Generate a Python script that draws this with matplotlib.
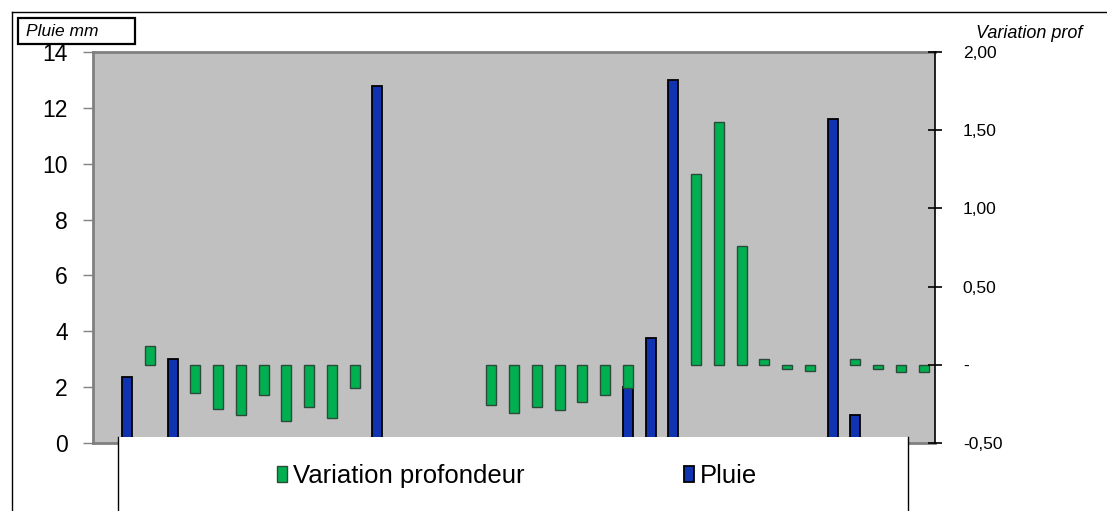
import matplotlib
matplotlib.use("Agg")
import matplotlib.pyplot as plt
from matplotlib.patches import Rectangle
from matplotlib.lines import Line2D
import numpy as np

plt.rcParams['font.family'] = ['Liberation Sans', 'DejaVu Sans']

nan = np.nan
# one slot per day (37), no category labels shown
pluie = [nan, 2.35, nan, 3.0, nan, nan, nan, nan, nan, nan,
         nan, nan, 12.8, nan, nan, nan, nan, nan, nan, nan,
         nan, nan, nan, 2.0, 3.75, 13.0, nan, nan, nan, nan,
         nan, nan, 11.6, 1.0, nan, nan, nan]
variation = [nan, nan, 0.12, nan, -0.18, -0.28, -0.32, -0.19, -0.36, -0.27,
             -0.34, -0.15, nan, nan, nan, nan, nan, -0.26, -0.31, -0.27,
             -0.29, -0.24, -0.19, -0.15, nan, nan, 1.22, 1.55, 0.76, 0.04,
             -0.03, -0.04, nan, 0.04, -0.03, -0.045, -0.045]

left_ticks = [0, 2, 4, 6, 8, 10, 12, 14]
right_ticks = [-0.5, 0, 0.5, 1.0, 1.5, 2.0]
right_labels = ["-0,50", "-", "0,50", "1,00", "1,50", "2,00"]

W, H = 1107, 511
fig = plt.figure(figsize=(W / 100, H / 100), dpi=100)

def fx(px):
    return px / W

def fy(py):
    return 1 - py / H

ax = fig.add_axes([fx(93), fy(443), fx(935) - fx(93), fy(52) - fy(443)])
ax2 = ax.twinx()

x = np.arange(len(pluie))
bars_p = ax.bar(x, pluie, width=0.44, color="#1033B0", edgecolor="black",
                linewidth=1.3, label="Pluie")
bars_v = ax2.bar(x, variation, width=0.44, color="#00B050", edgecolor="#2B4A3A",
                 linewidth=1.0, label="Variation profondeur")

ax.set_facecolor("#C0C0C0")
ax.set_xlim(-0.5, len(pluie) - 0.5)
ax.set_ylim(0, 14)
ax.set_yticks(left_ticks)
ax.set_xticks([])
ax.tick_params(axis="y", direction="out", length=7, width=1, color="#808080",
               labelsize=16.5, pad=11)
for s in ["left", "top", "bottom"]:
    ax.spines[s].set_color("#808080")
    ax.spines[s].set_linewidth(2)
ax.spines["right"].set_visible(False)

ax2.set_ylim(-0.5, 2.0)
ax2.set_yticks(right_ticks)
ax2.set_yticklabels(right_labels)
ax2.tick_params(axis="y", direction="inout", length=10, width=1.2, color="black",
                labelsize=12.5, pad=15)
for s in ["left", "top", "bottom"]:
    ax2.spines[s].set_visible(False)
ax2.spines["right"].set_color("black")
ax2.spines["right"].set_linewidth(1.2)

# outer chart frame
fig.add_artist(Line2D([fx(12), 1], [fy(12), fy(12)], color="black", lw=1))
fig.add_artist(Line2D([fx(12), fx(12)], [0, fy(12)], color="black", lw=1))

# axis titles
fig.add_artist(Rectangle((fx(18), fy(44)), fx(135) - fx(18), fy(18) - fy(44),
                         facecolor="white", edgecolor="black", lw=1.6))
fig.text(fx(26), fy(32), "Pluie mm", fontsize=12.5, style="italic", va="center")
fig.text(fx(976), fy(33), "Variation prof", fontsize=13, style="italic", va="center")

# legend area
fig.add_artist(Rectangle((fx(118), 0), fx(908) - fx(118), fy(437), facecolor="white",
                         edgecolor="none", zorder=3))
fig.add_artist(Line2D([fx(118), fx(118)], [0, fy(437)], color="black", lw=1, zorder=4))
fig.add_artist(Line2D([fx(908), fx(908)], [0, fy(437)], color="black", lw=1, zorder=4))
fig.legend(handles=[bars_v, bars_p], loc="center left",
           bbox_to_anchor=(fx(264), fy(476)), ncol=2, frameon=False, fontsize=18.5,
           handlelength=0.4, handleheight=0.6, handletextpad=0.22, columnspacing=6.2,
           borderpad=0)

fig.savefig("out.png", dpi=100)
